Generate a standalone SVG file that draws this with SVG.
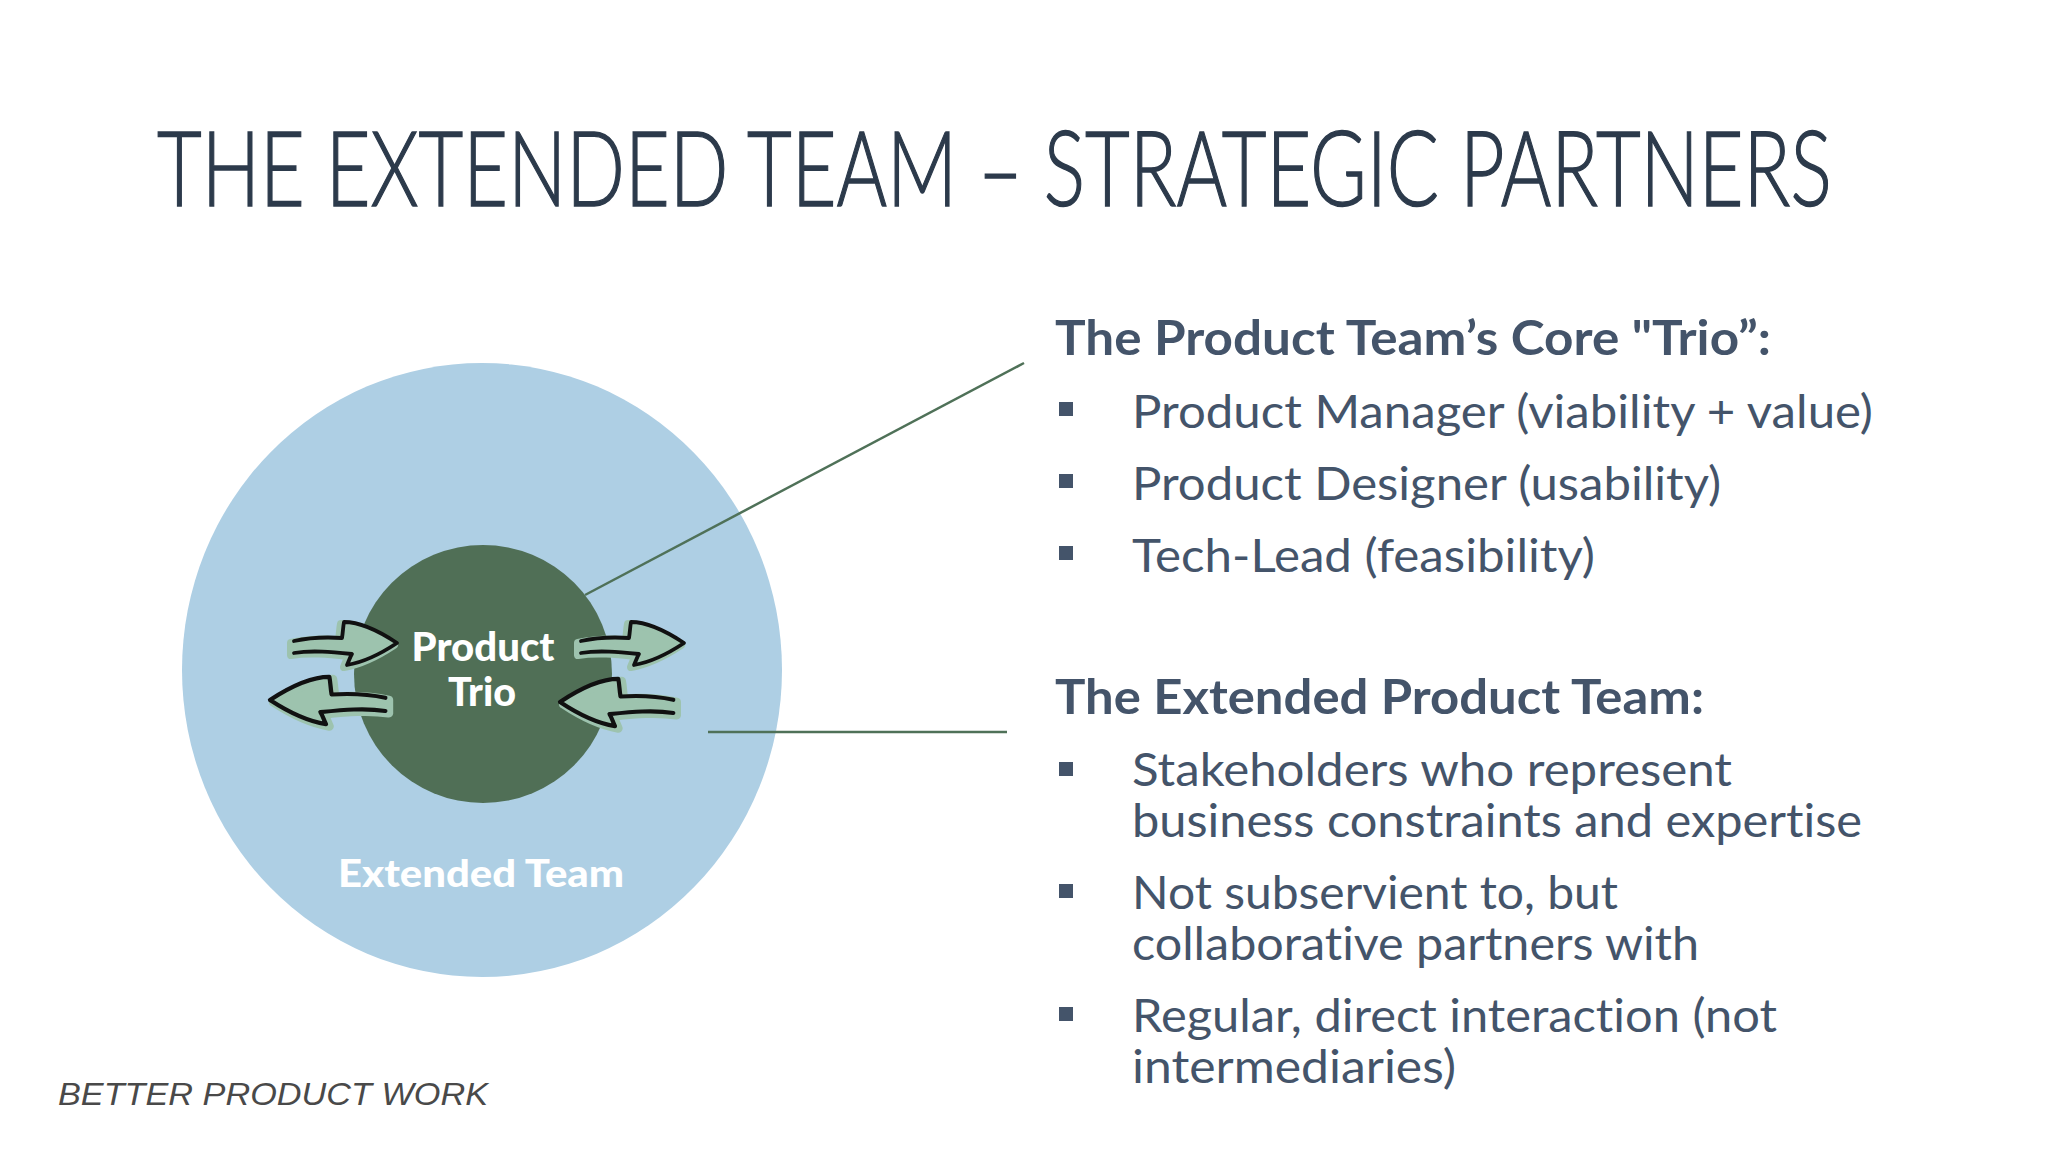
<svg xmlns="http://www.w3.org/2000/svg" xmlns:xlink="http://www.w3.org/1999/xlink" width="2048" height="1152" viewBox="0 0 2048 1152">
  <style>
    .title { font-family: Lato, "Liberation Sans Narrow", "DejaVu Sans Condensed", sans-serif; font-weight: 300; font-size: 104px; fill: #2c3a4b; stroke: #2c3a4b; stroke-width: 1.4; }
    .head { font-family: Lato, "Open Sans", "Liberation Sans", sans-serif; font-weight: 700; font-size: 47px; fill: #44546a; font-variant-ligatures: none; }
    .item { font-family: Lato, "Open Sans", "Liberation Sans", sans-serif; font-weight: 400; font-size: 46px; fill: #44546a; font-variant-ligatures: none; }
    .bullet { fill: #44546a; }
    .inner-label { font-family: Lato, "Open Sans", "Liberation Sans", sans-serif; font-weight: 900; font-size: 39px; fill: #ffffff; text-anchor: middle; }
    .outer-label { font-family: Lato, "Open Sans", "Liberation Sans", sans-serif; font-weight: 900; font-size: 37px; fill: #ffffff; text-anchor: middle; }
    .connector { stroke: #4f7158; stroke-width: 2.5; fill: none; }
    .arrow-fill { fill: #9dc3ae; stroke: #9dc3ae; stroke-width: 8; stroke-linejoin: round; stroke-linecap: round; }
    .arrow-line { fill: none; stroke: #111111; stroke-width: 3.8; stroke-linejoin: round; stroke-linecap: round; }
    .logo { font-family: "Liberation Sans", sans-serif; font-style: italic; font-size: 32px; fill: #2a2a2a; opacity: 0.85; }
  </style>
  <defs>
    <path id="arrowFillShape" d="M-103,-2 C-85,-6 -70,-6 -55,-5 C-54,-11 -54,-16 -53,-21 C-35,-21 -15,-10 0,0 C-15,10 -32,19 -50,22 C-48,18 -47,14 -45,11 C-65,9 -85,7 -103,10 Z"/>
    <path id="arrowOutline" d="M-103,-2 C-85,-6 -70,-6 -55,-5 C-54,-11 -54,-16 -53,-21 C-35,-21 -15,-10 0,0 C-15,10 -32,19 -50,22 C-48,18 -47,14 -45,11 C-65,9 -85,7 -103,10"/>
    <g id="sketchArrow">
      <use xlink:href="#arrowFillShape" href="#arrowFillShape" class="arrow-fill" transform="translate(-3,2)"/>
      <use xlink:href="#arrowOutline" href="#arrowOutline" class="arrow-line"/>
    </g>
  </defs>

  <rect x="0" y="0" width="2048" height="1152" fill="#ffffff"/>

  <g id="title">
    <text class="title" transform="translate(157,206) scale(0.75,1)" x="0" y="0" textLength="2233" lengthAdjust="spacingAndGlyphs">THE EXTENDED TEAM – STRATEGIC PARTNERS</text>
  </g>

  <g id="extended-team">
    <ellipse cx="482" cy="670" rx="300" ry="307" fill="#aecfe4"/>
    <text class="outer-label" x="481" y="887" textLength="286" lengthAdjust="spacingAndGlyphs">Extended Team</text>
  </g>

  <g id="product-trio">
    <circle cx="483" cy="674" r="129" fill="#506f56"/>
    <text class="inner-label" x="483" y="661" textLength="143" lengthAdjust="spacingAndGlyphs">Product</text>
    <text class="inner-label" x="482" y="706" textLength="68" lengthAdjust="spacingAndGlyphs">Trio</text>
  </g>

  <g id="exchange-arrows">
    <use xlink:href="#sketchArrow" href="#sketchArrow" transform="translate(397,643)"/>
    <use xlink:href="#sketchArrow" href="#sketchArrow" transform="translate(684,643)"/>
    <use xlink:href="#sketchArrow" href="#sketchArrow" transform="translate(270,700) scale(-1.12,1.1)"/>
    <use xlink:href="#sketchArrow" href="#sketchArrow" transform="translate(560,702) scale(-1.1,1.1)"/>
  </g>

  <g id="connectors">
    <line class="connector" x1="585" y1="595" x2="1024" y2="363"/>
    <line class="connector" x1="708" y1="732" x2="1007" y2="732"/>
  </g>

  <g id="core-trio-text">
    <text class="head" x="1055" y="355" textLength="716" lengthAdjust="spacingAndGlyphs">The Product Team’s Core "Trio”:</text>
    <rect class="bullet" x="1059" y="402" width="14" height="14"/>
    <text class="item" x="1132" y="428" textLength="741" lengthAdjust="spacingAndGlyphs">Product Manager (viability + value)</text>
    <rect class="bullet" x="1059" y="474" width="14" height="14"/>
    <text class="item" x="1132" y="500" textLength="589" lengthAdjust="spacingAndGlyphs">Product Designer (usability)</text>
    <rect class="bullet" x="1059" y="546" width="14" height="14"/>
    <text class="item" x="1132" y="572" textLength="463" lengthAdjust="spacingAndGlyphs">Tech-Lead (feasibility)</text>
  </g>

  <g id="extended-team-text">
    <text class="head" x="1055" y="714" textLength="649" lengthAdjust="spacingAndGlyphs">The Extended Product Team:</text>
    <rect class="bullet" x="1059" y="762" width="14" height="14"/>
    <text class="item" x="1132" y="786" textLength="600" lengthAdjust="spacingAndGlyphs">Stakeholders who represent</text>
    <text class="item" x="1132" y="837" textLength="730" lengthAdjust="spacingAndGlyphs">business constraints and expertise</text>
    <rect class="bullet" x="1059" y="884" width="14" height="14"/>
    <text class="item" x="1132" y="909" textLength="486" lengthAdjust="spacingAndGlyphs">Not subservient to, but</text>
    <text class="item" x="1132" y="960" textLength="567" lengthAdjust="spacingAndGlyphs">collaborative partners with</text>
    <rect class="bullet" x="1059" y="1007" width="14" height="14"/>
    <text class="item" x="1132" y="1032" textLength="645" lengthAdjust="spacingAndGlyphs">Regular, direct interaction (not</text>
    <text class="item" x="1132" y="1083" textLength="324" lengthAdjust="spacingAndGlyphs">intermediaries)</text>
  </g>

  <g id="logo">
    <text class="logo" x="58" y="1105" textLength="430" lengthAdjust="spacingAndGlyphs">BETTER PRODUCT WORK</text>
  </g>
</svg>
